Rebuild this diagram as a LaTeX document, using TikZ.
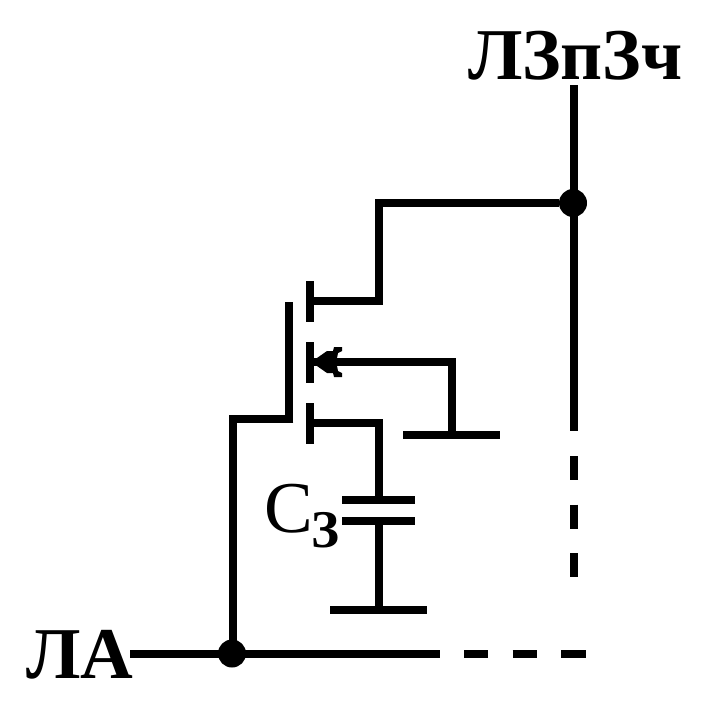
\documentclass[tikz,border=0pt]{standalone}
\usepackage{fontspec}
\setmainfont{Liberation Serif}
\tikzset{
  wire/.style={line width=8pt,line cap=butt,line join=miter},
  junction/.style={circle,fill=black,draw=none,inner sep=0pt,minimum size=28pt},
  lab/.style={inner sep=0pt,outer sep=0pt,anchor=base west,font=\fontsize{73}{73}\selectfont\bfseries},
  sublab/.style={inner sep=0pt,outer sep=0pt,anchor=base west,font=\fontsize{53}{53}\selectfont\bfseries}
}
\begin{document}
\begin{tikzpicture}[x=1pt,y=-1pt]
\useasboundingbox (0,0) rectangle (705,709);
% labels
\node[lab] (top) at (468,79) {ЛЗпЗч};
\node[lab] (la) at (26,678) {ЛА};
\node[lab,font=\fontsize{73}{73}\selectfont] (cs) at (264,532) {С};
\node[sublab] (csub) at (311,547) {З};
% junctions
\node[junction] (jt) at (573,203) {};
\node[junction] (jb) at (232,653.5) {};
% coordinates
\coordinate (rtop) at (573.5,85);
\coordinate (rend) at (573.5,431);
\coordinate (rdash) at (573.5,456);
\coordinate (rdashend) at (573.5,577);
\coordinate (bl) at (130,654);
\coordinate (bend) at (439.5,654);
\coordinate (bdash) at (464,654);
\coordinate (bdashend) at (585.5,654);
\coordinate (dc) at (379,301);
\coordinate (dc2) at (379,203);
\coordinate (sc) at (379,423);
% supply line, word line and their dashed continuations
\draw[wire] (rtop) -- (rend);
\draw[wire,dash pattern=on 24.3pt off 24.3pt] (rdash) -- (rdashend);
\draw[wire] (bl) -- (bend);
\draw[wire,dash pattern=on 24.3pt off 24.3pt] (bdash) -- (bdashend);
% drain
\draw[wire] (jt) -- (dc2) -- (dc) -- (314,301);
\draw[wire] (310,281) -- (310,322);
% body
\draw[wire] (310,342) -- (310,383);
\draw[wire] (314,362) -- (451.7,362) -- (451.7,435);
\fill (317,358) -- (327,351) -- (333,351) -- (334,347) -- (342,347) -- (342,351) -- (338,353) -- (337,358)
   -- (337,366) -- (338,371) -- (342,373) -- (342,377) -- (334,377) -- (333,373) -- (327,373) -- (317,366) -- cycle;
\draw[wire] (403,435) -- (500,435);
% gate
\draw[wire] (289.3,302) -- (289.3,423);
\draw[wire] (293.3,419) -- (232.7,419) -- (232.7,653);
% source and capacitor
\draw[wire] (310,403) -- (310,444);
\draw[wire] (314,423) -- (sc) -- (379,500);
\draw[wire] (342,500) -- (415,500);
\draw[wire] (342,520.7) -- (415,520.7);
\draw[wire] (379,520.7) -- (379,610);
\draw[wire] (330,610) -- (427,610);
\end{tikzpicture}
\end{document}
